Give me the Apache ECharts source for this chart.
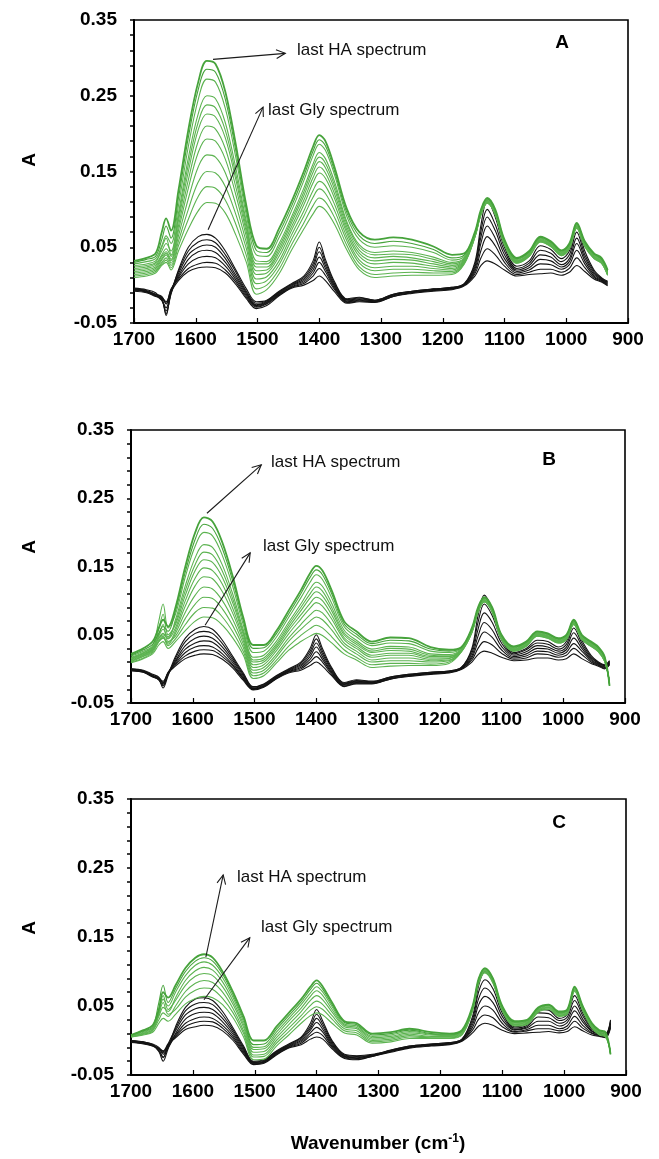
<!DOCTYPE html>
<html><head><meta charset="utf-8">
<script src="https://cdn.jsdelivr.net/npm/echarts@6/dist/echarts.min.js"></script>
<style>html,body{margin:0;padding:0;background:#fff}#c{width:659px;height:1159px}</style>
</head><body><div id="c"></div>
<script>
// ---- shared axes ----
const wavenumbers = [1700,1680,1665,1655,1648,1640,1628,1612,1596,1582,
  1568,1552,1535,1518,1502,1485,1465,1445,1425,1410,
  1400,1390,1375,1355,1335,1310,1280,1250,1215,1185,
  1165,1148,1138,1128,1115,1100,1080,1060,1042,1025,
  1008,995,983,970,955,943,933,925];
const yTickLabels = [-0.05,0.05,0.15,0.25,0.35];
const yTickMarks = [-0.05,-0.03,-0.01,0.01,0.03,0.05,0.07,0.09,0.11,0.13,0.15,0.17,0.19,0.21,0.23,0.25,0.27,0.29,0.31,0.33,0.35];
const panelLetters = ['A','B','C'];

// ---- Panel A (HA = green, Gly = black); each row is one spectrum ----
const panelA_HA = [
 [.032,.036,.042,.070,.088,.072,.125,.205,.268,.296, .292,.255,.185,.105,.052,.048,.075,.110,.150,.183, .198,.190,.155,.100,.070,.060,.063,.060,.051,.040, .042,.070,.100,.115,.100,.060,.036,.045,.064,.058, .046,.055,.082,.058,.042,.036,.020,null],
 [.030,.034,.038,.060,.078,.062,.115,.195,.258,.285, .281,.245,.177,.099,.046,.043,.069,.104,.144,.177, .192,.184,.150,.095,.065,.055,.058,.055,.047,.036, .040,.069,.099,.114,.099,.059,.035,.044,.063,.057, .045,.054,.081,.057,.041,.035,.019,null],
 [.028,.031,.035,.052,.065,.055,.105,.183,.245,.272, .268,.233,.168,.092,.040,.038,.063,.098,.138,.171, .186,.178,.145,.090,.060,.050,.052,.050,.043,.033, .038,.068,.098,.113,.098,.058,.034,.043,.062,.056, .044,.053,.080,.056,.040,.034,.018,null],
 [.026,.028,.032,.045,.055,.045,.095,.168,.226,.250, .246,.214,.154,.084,.032,.031,.055,.090,.128,.160, .175,.167,.136,.083,.053,.043,.045,.043,.037,.030, .036,.067,.097,.112,.097,.057,.033,.042,.061,.055, .043,.052,.079,.055,.039,.033,.017,null],
 [.024,.026,.030,.050,.062,.040,.090,.159,.215,.238, .234,.204,.146,.080,.028,.028,.051,.086,.123,.155, .169,.161,.131,.080,.050,.040,.041,.040,.034,.028, .035,.066,.096,.111,.096,.056,.032,.041,.060,.054, .042,.051,.078,.054,.038,.032,.016,null],
 [.022,.024,.028,.040,.048,.038,.085,.150,.205,.226, .222,.194,.139,.075,.024,.024,.047,.082,.118,.149, .163,.155,.126,.076,.046,.036,.038,.036,.031,.026, .034,.066,.096,.111,.096,.056,.032,.041,.060,.054, .042,.051,.078,.054,.038,.032,.016,null],
 [.020,.022,.026,.038,.044,.034,.078,.139,.190,.210, .206,.180,.129,.070,.019,.020,.043,.077,.112,.142, .156,.148,.120,.072,.042,.032,.034,.033,.028,.024, .033,.065,.095,.110,.095,.055,.031,.040,.059,.053, .041,.050,.077,.053,.037,.031,.015,null],
 [.018,.020,.024,.035,.042,.032,.072,.128,.175,.193, .190,.166,.119,.064,.014,.016,.038,.072,.106,.135, .148,.141,.114,.068,.038,.028,.030,.029,.025,.022, .032,.065,.095,.110,.095,.055,.031,.040,.059,.053, .041,.050,.077,.053,.037,.031,.015,null],
 [.016,.018,.022,.033,.040,.029,.065,.114,.156,.172, .169,.148,.106,.056,.008,.011,.032,.066,.098,.125, .137,.131,.106,.063,.033,.023,.025,.025,.022,.020, .031,.064,.094,.109,.094,.054,.030,.039,.058,.052, .040,.049,.076,.052,.036,.030,.014,null],
 [.014,.016,.020,.030,.036,.026,.058,.100,.136,.150, .148,.130,.093,.048,.002,.006,.027,.060,.091,.116, .127,.121,.098,.058,.029,.019,.021,.021,.019,.018, .030,.064,.094,.109,.094,.054,.030,.039,.058,.052, .040,.049,.076,.052,.036,.030,.014,null],
 [.012,.014,.018,.028,.033,.023,.052,.087,.117,.130, .128,.112,.080,.039,-.005,.000,.021,.053,.082,.105, .115,.110,.089,.052,.024,.014,.016,.017,.016,.016, .029,.063,.093,.108,.093,.053,.029,.038,.057,.051, .039,.048,.075,.051,.035,.029,.013,null],
 [.010,.012,.016,.026,.030,.020,.045,.074,.098,.109, .108,.095,.066,.030,-.012,-.006,.015,.046,.074,.094, .104,.099,.080,.046,.020,.010,.012,.013,.013,.014, .028,.063,.093,.108,.093,.053,.029,.038,.057,.051, .039,.048,.075,.051,.035,.029,.013,null]
];
const panelA_Gly = [
 [-.004,-.006,-.010,-.020,-.034,-.012,.020,.050,.064,.067, .062,.045,.020,-.005,-.022,-.020,-.008,.002,.012,.032, .057,.034,.004,-.018,-.016,-.020,-.012,-.008,-.005,-.003, .002,.030,.080,.112,.090,.050,.025,.032,.052,.047, .035,.045,.078,.045,.020,.010,.005,null],
 [-.005,-.007,-.012,-.015,-.025,-.008,.018,.045,.057,.060, .056,.040,.017,-.008,-.024,-.021,-.009,.001,.010,.028, .050,.030,.002,-.019,-.017,-.020,-.012,-.008,-.005,-.003, .002,.027,.072,.100,.080,.045,.022,.029,.046,.042, .031,.040,.070,.040,.018,.009,.004,null],
 [-.005,-.008,-.012,-.018,-.038,-.010,.015,.040,.050,.053, .050,.035,.013,-.010,-.026,-.022,-.010,.000,.008,.024, .044,.026,.000,-.020,-.018,-.021,-.013,-.009,-.006,-.004, .001,.024,.064,.090,.072,.040,.020,.026,.040,.037, .027,.035,.062,.036,.016,.008,.003,null],
 [-.006,-.008,-.013,-.016,-.022,-.006,.012,.034,.044,.046, .043,.030,.010,-.012,-.027,-.023,-.011,-.001,.006,.020, .037,.022,-.002,-.021,-.019,-.021,-.013,-.009,-.006,-.004, .001,.021,.056,.078,.062,.035,.018,.023,.034,.032, .024,.031,.055,.032,.014,.007,.002,null],
 [-.006,-.009,-.014,-.020,-.030,-.008,.010,.028,.036,.038, .036,.025,.007,-.014,-.028,-.024,-.012,-.002,.004,.016, .030,.018,-.004,-.022,-.020,-.022,-.014,-.010,-.007,-.005, .000,.018,.046,.064,.052,.030,.016,.020,.028,.027, .021,.027,.046,.028,.012,.006,.001,null],
 [-.007,-.009,-.014,-.017,-.024,-.005,.008,.022,.028,.030, .029,.020,.004,-.016,-.029,-.025,-.013,-.003,.002,.012, .022,.013,-.006,-.023,-.021,-.022,-.015,-.010,-.007,-.005, .000,.015,.036,.048,.040,.025,.014,.017,.021,.021, .017,.022,.036,.023,.010,.005,.000,null],
 [-.008,-.010,-.015,-.018,-.040,-.010,.006,.018,.023,.024, .023,.016,.001,-.018,-.031,-.027,-.014,-.004,.000,.006, .012,.006,-.009,-.024,-.022,-.023,-.015,-.011,-.008,-.006, -.001,.012,.026,.032,.028,.020,.012,.014,.015,.016, .013,.017,.026,.018,.008,.004,-.001,null]
];

// ---- Panel B ----
const panelB_HA = [
 [.022,.030,.040,.060,.072,.062,.090,.150,.200,.222, .216,.185,.135,.075,.035,.035,.055,.085,.115,.140, .151,.144,.115,.070,.055,.040,.046,.045,.032,.028, .032,.060,.090,.105,.090,.050,.033,.040,.055,.052, .045,.050,.072,.050,.040,.032,.018,-.025],
 [.020,.028,.036,.052,.062,.055,.085,.142,.190,.212, .206,.176,.128,.070,.030,.031,.051,.080,.110,.134, .145,.138,.110,.066,.051,.037,.042,.041,.029,.026, .031,.059,.089,.104,.089,.049,.032,.039,.054,.051, .044,.049,.071,.049,.039,.031,.017,-.025],
 [.019,.026,.034,.070,.095,.060,.080,.135,.180,.200, .195,.166,.120,.064,.024,.026,.046,.075,.104,.127, .138,.131,.104,.062,.047,.034,.038,.037,.026,.024, .030,.058,.088,.103,.088,.048,.031,.038,.053,.050, .043,.048,.070,.048,.038,.030,.016,-.024],
 [.017,.024,.032,.045,.050,.045,.072,.122,.163,.182, .178,.152,.109,.057,.017,.020,.040,.068,.095,.117, .127,.121,.096,.057,.042,.029,.033,.032,.022,.021, .029,.057,.087,.102,.087,.047,.030,.037,.052,.049, .042,.047,.069,.047,.037,.029,.015,-.023],
 [.016,.023,.031,.048,.058,.047,.068,.115,.153,.171, .167,.143,.102,.053,.013,.016,.036,.064,.090,.110, .120,.114,.090,.053,.039,.026,.030,.029,.020,.019, .028,.056,.086,.101,.086,.046,.029,.036,.051,.048, .041,.046,.068,.046,.036,.028,.014,-.022],
 [.015,.022,.030,.058,.080,.050,.065,.108,.144,.160, .156,.134,.096,.050,.010,.013,.033,.060,.085,.104, .113,.107,.085,.050,.036,.024,.027,.026,.018,.018, .028,.056,.086,.101,.086,.046,.029,.036,.051,.048, .041,.046,.068,.046,.036,.028,.014,-.022],
 [.014,.021,.029,.045,.052,.044,.060,.100,.133,.148, .144,.124,.088,.045,.006,.010,.030,.056,.079,.096, .105,.100,.079,.046,.033,.020,.023,.023,.016,.016, .027,.055,.085,.100,.085,.045,.028,.035,.050,.047, .040,.045,.067,.045,.035,.027,.013,-.021],
 [.013,.020,.028,.040,.045,.038,.056,.092,.122,.135, .132,.113,.081,.041,.002,.006,.026,.051,.073,.089, .097,.092,.073,.043,.030,.017,.020,.020,.014,.015, .027,.055,.085,.100,.085,.045,.028,.035,.050,.047, .040,.045,.067,.045,.035,.027,.013,-.021],
 [.012,.019,.027,.042,.048,.036,.052,.083,.108,.120, .117,.100,.072,.036,-.002,.002,.021,.045,.065,.079, .086,.082,.065,.038,.026,.013,.016,.016,.012,.013, .026,.054,.084,.099,.084,.044,.027,.034,.049,.046, .039,.044,.066,.044,.034,.026,.012,-.020],
 [.011,.018,.026,.050,.065,.040,.048,.074,.095,.105, .103,.088,.063,.031,-.006,-.002,.017,.040,.058,.070, .076,.072,.057,.034,.022,.010,.012,.012,.010,.012, .026,.054,.084,.099,.084,.044,.027,.034,.049,.046, .039,.044,.066,.044,.034,.026,.012,-.020],
 [.010,.016,.024,.040,.046,.034,.044,.065,.083,.090, .089,.076,.054,.025,-.010,-.006,.012,.033,.049,.059, .064,.060,.047,.028,.017,.006,.008,.008,.007,.010, .025,.053,.083,.098,.083,.043,.026,.033,.048,.045, .038,.043,.065,.043,.033,.025,.011,-.019],
 [.009,.015,.022,.035,.040,.030,.040,.056,.070,.076, .075,.064,.045,.020,-.014,-.010,.008,.027,.040,.048, .052,.049,.038,.022,.013,.002,.004,.005,.005,.008, .025,.053,.083,.098,.083,.043,.026,.033,.048,.045, .038,.043,.065,.043,.033,.025,.011,-.019]
];
const panelB_Gly = [
 [.000,-.002,-.008,-.012,-.022,-.008,.018,.045,.058,.062, .058,.042,.018,-.006,-.026,-.022,-.010,.000,.010,.030, .050,.030,.002,-.020,-.016,-.018,-.012,-.008,-.005,-.003, .002,.030,.078,.108,.088,.048,.024,.030,.042,.040, .032,.040,.068,.042,.020,.010,.006,.012],
 [.000,-.003,-.009,-.015,-.028,-.010,.015,.040,.052,.055, .052,.037,.015,-.008,-.027,-.023,-.011,-.001,.008,.026, .044,.026,.000,-.021,-.017,-.019,-.012,-.008,-.005,-.003, .002,.027,.068,.095,.078,.043,.022,.028,.038,.036, .029,.036,.060,.038,.018,.009,.005,.011],
 [-.001,-.003,-.010,-.013,-.020,-.006,.012,.034,.045,.048, .045,.032,.012,-.010,-.028,-.024,-.012,-.002,.006,.022, .038,.022,-.002,-.022,-.018,-.020,-.013,-.009,-.006,-.004, .001,.023,.058,.082,.068,.038,.020,.025,.034,.032, .026,.032,.053,.034,.016,.008,.004,.010],
 [-.001,-.004,-.010,-.016,-.025,-.008,.010,.029,.038,.041, .039,.027,.009,-.012,-.029,-.025,-.013,-.003,.004,.018, .032,.018,-.004,-.023,-.019,-.020,-.013,-.009,-.006,-.004, .001,.019,.048,.068,.057,.033,.018,.022,.030,.029, .023,.028,.045,.030,.014,.007,.003,.009],
 [-.002,-.004,-.011,-.014,-.018,-.005,.008,.024,.032,.034, .032,.022,.006,-.014,-.030,-.026,-.014,-.004,.002,.014, .025,.014,-.006,-.024,-.020,-.021,-.014,-.010,-.007,-.005, .000,.016,.039,.054,.046,.028,.016,.019,.026,.025, .020,.024,.037,.026,.012,.006,.002,.008],
 [-.002,-.005,-.011,-.016,-.024,-.007,.006,.019,.026,.028, .027,.018,.004,-.015,-.030,-.026,-.014,-.005,.000,.010, .018,.010,-.008,-.025,-.021,-.021,-.015,-.010,-.007,-.005, .000,.013,.030,.040,.035,.023,.014,.016,.022,.021, .017,.020,.030,.021,.010,.005,.001,.007],
 [-.003,-.005,-.012,-.015,-.020,-.006,.004,.015,.020,.022, .021,.014,.001,-.017,-.031,-.027,-.015,-.006,-.002,.005, .010,.004,-.010,-.026,-.022,-.022,-.015,-.011,-.008,-.006, -.001,.010,.021,.026,.023,.017,.012,.013,.016,.016, .013,.015,.022,.015,.008,.004,.000,.006]
];

// ---- Panel C ----
const panelC_HA = [
 [.008,.015,.022,.045,.070,.062,.080,.105,.120,.125, .120,.100,.070,.035,.000,.000,.020,.040,.060,.078, .087,.078,.055,.028,.025,.010,.012,.017,.012,.010, .015,.050,.090,.105,.090,.050,.028,.030,.048,.052, .042,.045,.078,.050,.025,.015,.012,-.020],
 [.008,.014,.020,.055,.080,.055,.075,.100,.115,.120, .115,.096,.066,.031,-.006,-.005,.016,.036,.056,.074, .083,.074,.052,.026,.023,.008,.010,.015,.010,.009, .014,.049,.089,.104,.089,.049,.027,.029,.047,.051, .041,.044,.077,.049,.024,.014,.011,-.020],
 [.007,.013,.018,.040,.060,.050,.070,.094,.109,.114, .109,.091,.062,.027,-.010,-.009,.012,.032,.052,.069, .078,.070,.049,.024,.021,.006,.008,.013,.009,.008, .013,.048,.088,.103,.088,.048,.026,.028,.046,.050, .040,.043,.076,.048,.023,.013,.010,-.019],
 [.007,.012,.017,.035,.048,.042,.062,.087,.101,.106, .102,.085,.057,.023,-.013,-.012,.008,.028,.047,.064, .072,.065,.045,.022,.019,.004,.006,.011,.008,.007, .012,.047,.087,.102,.087,.047,.025,.027,.045,.049, .039,.042,.075,.047,.022,.012,.009,-.019],
 [.006,.011,.016,.045,.065,.045,.058,.080,.093,.097, .094,.078,.052,.019,-.017,-.016,.004,.023,.042,.058, .065,.059,.041,.020,.017,.002,.004,.009,.006,.006, .011,.046,.086,.101,.086,.046,.024,.026,.044,.048, .038,.041,.074,.046,.021,.011,.008,-.018],
 [.006,.010,.015,.030,.040,.035,.050,.071,.083,.087, .084,.070,.046,.014,-.021,-.020,.000,.018,.036,.051, .057,.052,.036,.017,.014,.000,.002,.007,.005,.005, .010,.045,.085,.100,.085,.045,.023,.025,.043,.047, .037,.040,.073,.045,.020,.010,.007,-.018],
 [.005,.009,.014,.038,.055,.038,.045,.063,.073,.076, .074,.061,.040,.010,-.024,-.023,-.004,.013,.031,.044, .049,.045,.031,.014,.011,-.002,.000,.005,.004,.004, .009,.044,.084,.099,.084,.044,.022,.024,.042,.046, .036,.039,.072,.044,.019,.009,.006,-.017],
 [.005,.008,.012,.025,.032,.028,.038,.053,.061,.064, .062,.052,.033,.005,-.028,-.027,-.008,.008,.025,.036, .040,.037,.025,.011,.008,-.004,-.002,.003,.003,.003, .008,.043,.083,.098,.083,.043,.021,.023,.041,.045, .035,.038,.071,.043,.018,.008,.005,-.017]
];
const panelC_Gly = [
 [.000,-.002,-.005,-.010,-.020,-.010,.020,.048,.060,.062, .058,.042,.018,-.008,-.030,-.028,-.015,-.005,.005,.025, .045,.028,.000,-.020,-.022,-.020,-.014,-.008,-.005,-.003, .002,.035,.080,.100,.085,.045,.020,.025,.045,.044, .032,.038,.065,.040,.018,.012,.010,.030],
 [.000,-.002,-.006,-.015,-.025,-.005,.017,.043,.053,.055, .052,.037,.015,-.010,-.031,-.029,-.016,-.006,.004,.021, .038,.024,-.002,-.021,-.023,-.021,-.014,-.008,-.005,-.003, .002,.031,.071,.088,.075,.040,.018,.022,.040,.039, .029,.034,.058,.036,.016,.011,.009,.028],
 [-.001,-.003,-.006,-.012,-.018,-.008,.014,.037,.046,.048, .045,.032,.012,-.012,-.032,-.030,-.017,-.007,.002,.018, .032,.020,-.004,-.022,-.024,-.021,-.015,-.009,-.006,-.004, .001,.027,.061,.076,.065,.035,.016,.020,.034,.033, .025,.030,.050,.031,.014,.010,.008,.026],
 [-.001,-.003,-.007,-.016,-.030,-.012,.010,.031,.039,.041, .039,.027,.009,-.014,-.033,-.031,-.018,-.008,.000,.015, .026,.016,-.006,-.023,-.025,-.022,-.015,-.009,-.006,-.004, .001,.023,.052,.064,.055,.030,.015,.018,.028,.028, .021,.026,.043,.027,.013,.009,.007,.024],
 [-.002,-.004,-.007,-.012,-.016,-.006,.008,.025,.032,.034, .032,.022,.006,-.016,-.033,-.031,-.019,-.009,-.002,.011, .019,.012,-.008,-.024,-.026,-.022,-.016,-.010,-.007,-.005, .000,.019,.041,.050,.044,.025,.013,.016,.022,.022, .017,.021,.035,.022,.011,.008,.006,.022],
 [-.002,-.004,-.008,-.014,-.024,-.010,.006,.020,.026,.028, .027,.018,.003,-.018,-.034,-.032,-.020,-.010,-.004,.007, .012,.007,-.010,-.025,-.027,-.023,-.016,-.010,-.007,-.005, .000,.015,.031,.037,.033,.020,.012,.014,.017,.017, .014,.017,.028,.018,.010,.007,.005,.020],
 [-.003,-.005,-.008,-.011,-.015,-.005,.004,.016,.020,.022, .021,.014,.000,-.020,-.035,-.033,-.021,-.011,-.006,.002, .005,.002,-.012,-.026,-.028,-.023,-.017,-.011,-.008,-.006, -.001,.011,.021,.025,.022,.015,.010,.011,.012,.013, .011,.013,.020,.014,.008,.006,.004,.018]
];

// ---- annotation arrows (data coordinates: from [wavenumber, A] to [wavenumber, A]) ----
const arrowsA = [[1572,0.298,1455,0.306],[1580,0.073,1491,0.235]];
const arrowsB = [[1577,0.228,1489,0.299],[1580,0.064,1507,0.170]];
const arrowsC = [[1579,0.121,1551,0.240],[1582,0.059,1508,0.149]];
const annotationText = ['last HA spectrum','last Gly spectrum'];

const FONT = "'Liberation Sans', Arial, Helvetica, sans-serif";
const GREEN_TOP = '#46a33b';
const GREEN = '#5cb350';
const BLACK = '#141414';

const panels = [
  {ha: panelA_HA, gly: panelA_Gly, arrows: arrowsA, grid:{left:134, top:20, width:494, height:303},
   texts:[[297,50],[268,110]], letter:[562,43], yTitle:[30,160]},
  {ha: panelB_HA, gly: panelB_Gly, arrows: arrowsB, grid:{left:131, top:430, width:494, height:273},
   texts:[[271,462],[263,546]], letter:[549,460], yTitle:[30,547]},
  {ha: panelC_HA, gly: panelC_Gly, arrows: arrowsC, grid:{left:131, top:799, width:495, height:276},
   texts:[[237,877],[261,927]], letter:[559,823], yTitle:[30,928]}
];

const grids = [], xAxes = [], yAxes = [], series = [], graphics = [];
panels.forEach((p, i) => {
  grids.push(Object.assign({show:true, borderColor:'#000', borderWidth:1.6, backgroundColor:'transparent'}, p.grid));
  xAxes.push({type:'value', gridIndex:i, min:900, max:1700, interval:100, inverse:true,
    axisLine:{show:true, onZero:false, lineStyle:{color:'#000', width:2}},
    axisTick:{show:true, inside:true, length:5, lineStyle:{color:'#000', width:1.2}},
    axisLabel:{show:true, formatter: v => String(Math.round(v)), fontFamily:FONT, fontWeight:'bold', fontSize:19, color:'#000', margin:7},
    splitLine:{show:false}});
  yAxes.push({type:'value', gridIndex:i, min:-0.05, max:0.35,
    axisLine:{show:true, onZero:false, lineStyle:{color:'#000', width:2}},
    axisTick:{show:true, customValues:yTickMarks, length:4, lineStyle:{color:'#000', width:1.5}},
    axisLabel:{show:true, customValues:yTickLabels, formatter: v => Number(v).toFixed(2),
      fontFamily:FONT, fontWeight:'bold', fontSize:19, color:'#000', margin:17},
    splitLine:{show:false}});
  p.gly.slice().reverse().forEach(arr => {
    series.push({type:'line', xAxisIndex:i, yAxisIndex:i, showSymbol:false, symbol:'none', smooth:0.35,
      silent:true, animation:false,
      lineStyle:{color:BLACK, width:1.1}, data: wavenumbers.map((w,j)=>[w, arr[j]])});
  });
  const n = p.ha.length;
  p.ha.slice().reverse().forEach((arr, k) => {
    const top = k >= n-2;
    series.push({type:'line', xAxisIndex:i, yAxisIndex:i, showSymbol:false, symbol:'none', smooth:0.35,
      silent:true, animation:false,
      lineStyle:{color: top ? GREEN_TOP : GREEN, width: k === n-1 ? 1.8 : 1.1}, data: wavenumbers.map((w,j)=>[w, arr[j]])});
  });
  p.texts.forEach((t, k) => graphics.push({type:'text', x:t[0], y:t[1], z:100,
    style:{text:annotationText[k], font:'17px '+FONT, fill:'#111', textVerticalAlign:'middle'}}));
  graphics.push({type:'text', x:p.letter[0], y:p.letter[1], z:100,
    style:{text:panelLetters[i], font:'bold 19px '+FONT, fill:'#000', textAlign:'center', textVerticalAlign:'middle'}});
  graphics.push({type:'text', x:p.yTitle[0], y:p.yTitle[1], rotation:Math.PI/2, z:100,
    style:{text:'A', font:'bold 19px '+FONT, fill:'#000', textAlign:'center', textVerticalAlign:'middle'}});
});
graphics.push({type:'text', x:378, y:1144, z:100,
  style:{text:'{t|Wavenumber (cm}{s|-1}{t|)}', textAlign:'center', textVerticalAlign:'middle',
    rich:{t:{font:'bold 19px '+FONT, fill:'#000'}, s:{font:'bold 12px '+FONT, fill:'#000', verticalAlign:'top', padding:[0,0,10,0]}}}});

const chart = echarts.init(document.getElementById('c'), null, {renderer:'canvas'});
chart.setOption({backgroundColor:'#fff', animation:false, grid:grids, xAxis:xAxes, yAxis:yAxes, series:series});

// arrows: positions converted from data coordinates through each grid's axes
panels.forEach((p, i) => {
  p.arrows.forEach(a => {
    const s = chart.convertToPixel({gridIndex:i}, [a[0], a[1]]);
    const e = chart.convertToPixel({gridIndex:i}, [a[2], a[3]]);
    const ang = Math.atan2(e[1]-s[1], e[0]-s[0]);
    const L = 10, spread = 0.45;
    const h1 = [e[0] - L*Math.cos(ang - spread), e[1] - L*Math.sin(ang - spread)];
    const h2 = [e[0] - L*Math.cos(ang + spread), e[1] - L*Math.sin(ang + spread)];
    graphics.push({type:'line', z:100, shape:{x1:s[0], y1:s[1], x2:e[0], y2:e[1]}, style:{stroke:'#1a1a1a', lineWidth:1.1}});
    graphics.push({type:'polyline', z:100, shape:{points:[h1, e, h2]}, style:{stroke:'#1a1a1a', lineWidth:1.1, fill:null}});
  });
});
chart.setOption({graphic: graphics});
</script></body></html>
